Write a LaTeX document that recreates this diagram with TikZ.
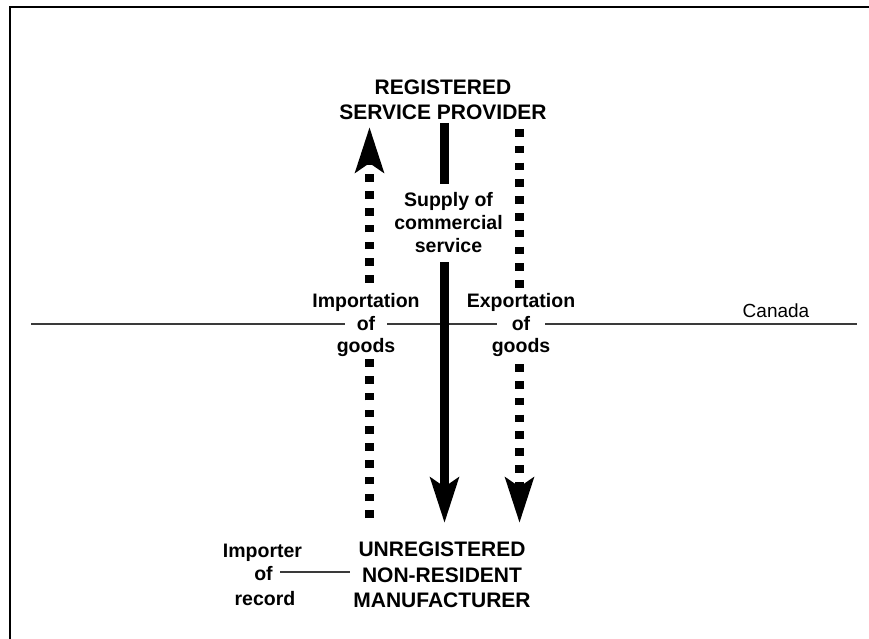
\documentclass[tikz,border=0pt]{standalone}
\usepackage{fontspec}
\setmainfont{Liberation Sans}
\usetikzlibrary{positioning, arrows.meta, backgrounds}
\definecolor{ink}{HTML}{000000}
\definecolor{rulec}{HTML}{3A3A3A}
\tikzset{
  titlebox/.style={align=center, inner sep=3pt, text=ink,
                   font=\bfseries\fontsize{21}{25.5}\selectfont},
  flowlbl/.style={align=center, inner sep=2pt, text=ink, fill=white,
                  font=\bfseries\fontsize{19.5}{23}\selectfont},
  rowlbl/.style={anchor=base, inner xsep=11.5pt, inner ysep=2pt, fill=white, text=ink,
                 text height=14.5pt, text depth=4.5pt,
                 font=\bfseries\fontsize{19.5}{23}\selectfont},
  dotarr/.style={-{Stealth[length=45pt, width=28pt, inset=9pt]}, draw=ink,
                 line width=9pt, dash pattern=on 7.6pt off 9.2pt},
  solidarr/.style={-{Stealth[length=45pt, width=28pt, inset=9pt]}, draw=ink,
                   line width=9pt},
  border/.style={draw=rulec, line width=1.2pt},
  frame/.style={draw=ink, line width=2pt},
}
\begin{document}
\begin{tikzpicture}[x=1pt, y=-1pt]
  \useasboundingbox (0,0) rectangle (869,639);
  \draw[frame] (10,639) -- (10,7) -- (869,7);

  \node[titlebox] (rsp) at (443,100) {REGISTERED\\SERVICE PROVIDER};
  \node[titlebox] (unr) at (442,575) {UNREGISTERED\\NON-RESIDENT\\MANUFACTURER};
  \node[flowlbl, inner ysep=8.5pt] (sup) at (448.5,223) {Supply of\\commercial\\service};

  \node[rowlbl] (imp) at (366,307) {Importation};
  \node[rowlbl] (impof) at (366,330) {of};
  \node[rowlbl] (impgd) at (366,352.5) {goods};
  \node[rowlbl] (exp) at (521,307) {Exportation};
  \node[rowlbl, inner xsep=15pt] (expof) at (521,330) {of};
  \node[rowlbl] (expgd) at (521,352.5) {goods};

  \node[rowlbl, fill=none] (rec) at (262.5,557) {Importer};
  \node[rowlbl, fill=none, inner xsep=7.5pt] (recof) at (263.5,580) {of};
  \node[rowlbl, fill=none] (recrd) at (265,605) {record};

  \node[anchor=base, inner sep=0pt, text=ink, font=\fontsize{19}{23}\selectfont] (can) at (776,317) {Canada};

  \coordinate (canW) at (31,324);
  \coordinate (canE) at (857,324);
  \coordinate (impS) at (369.5,518);
  \coordinate (impT) at (369.5,127);
  \coordinate (supT) at (444.5,123);
  \coordinate (supB) at (444.5,523);
  \coordinate (expT) at (519.5,129);
  \coordinate (expB) at (519.5,523);

  \begin{pgfonlayer}{background}
    \draw[border] (canW) -- (canW -| impof.west);
    \draw[border] (canW -| impof.east) -- (canW -| expof.west);
    \draw[border] (canW -| expof.east) -- (canE);
    \draw[border] ([yshift=8pt]recof.base east) -- ([yshift=8pt]recof.base -| unr.west);
    \draw[dotarr] (impS) -- (impT);
    \draw[solidarr] (supT) -- (supB);
    \draw[dotarr] (expT) -- (expB);
  \end{pgfonlayer}
\end{tikzpicture}
\end{document}
